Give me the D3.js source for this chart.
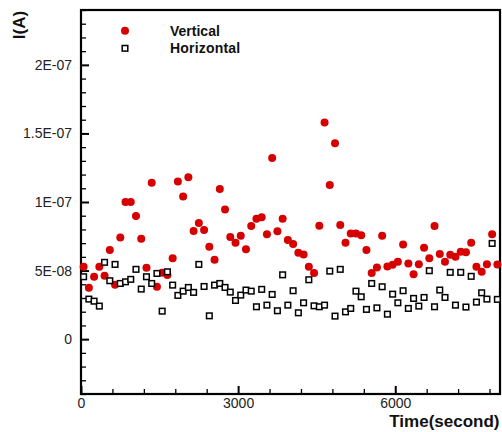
<!DOCTYPE html>
<html>
<head>
<meta charset="utf-8">
<script src="https://cdn.jsdelivr.net/npm/d3@7"></script>
<style>
  html, body { margin: 0; padding: 0; background: #fff; }
  svg { display: block; }
  text { font-family: "Liberation Sans", Arial, sans-serif; }
</style>
</head>
<body>
<svg id="chart" width="502" height="432"></svg>
<script>
// ---- data ----
const times = [50,150,250,350,450,550,650,750,850,950,
  1050,1150,1250,1350,1450,1550,1650,1750,1850,1950,
  2050,2150,2250,2350,2450,2550,2650,2750,2850,2950,
  3050,3150,3250,3350,3450,3550,3650,3750,3850,3950,
  4050,4150,4250,4350,4450,4550,4650,4750,4850,4950,
  5050,5150,5250,5350,5450,5550,5650,5750,5850,5950,
  6050,6150,6250,6350,6450,6550,6650,6750,6850,6950,
  7050,7150,7250,7350,7450,7550,7650,7750,7850,7950];
// values in units of 1E-08 A
const vertical = [5.28,3.74,4.55,5.28,4.62,6.5,3.96,7.42,10.0,10.0,
  8.98,7.32,5.2,11.4,3.82,4.84,4.67,5.89,11.5,10.4,
  11.8,7.88,8.47,7.96,6.74,5.79,10.95,9.46,7.45,7.03,
  7.54,6.55,8.25,8.78,8.88,7.64,13.2,7.86,8.78,7.23,
  6.93,6.3,6.18,5.28,4.82,8.27,15.8,11.24,14.28,8.32,
  7.03,7.71,7.71,7.57,6.5,4.82,5.23,7.54,5.3,5.42,
  5.64,6.91,5.52,4.74,5.47,6.67,5.89,8.25,6.2,5.64,
  6.16,6.0,6.37,6.33,7.03,5.28,4.91,5.47,7.64,5.45];
const horizontal = [4.55,2.92,2.77,2.41,5.6,4.26,5.45,4.06,4.18,4.36,
  5.09,3.65,4.55,4.06,4.79,2.04,4.91,3.94,3.19,3.5,
  3.77,3.41,5.45,3.84,1.7,3.94,4.06,3.77,3.43,2.82,
  3.21,3.58,3.5,2.36,3.63,2.48,3.26,2.07,4.69,2.48,
  3.53,1.92,2.65,4.33,2.43,2.36,2.48,4.96,1.68,5.09,
  1.99,2.24,3.5,3.09,2.17,4.06,2.28,3.82,1.82,3.28,
  2.65,3.53,2.24,2.97,2.41,3.04,4.99,2.36,3.58,3.04,
  4.87,2.48,4.87,2.34,4.58,2.7,3.38,2.92,6.98,2.9];
const unit = 1e-8;
const yMajorTicks = [0, 5e-8, 1e-7, 1.5e-7, 2e-7];
const yTickLabels = ["0", "5E-08", "1E-07", "1.5E-07", "2E-07"];
const xMajorTicks = [0, 3000, 6000];
const xTickLabels = ["0", "3000", "6000"];
const seriesNames = ["Vertical", "Horizontal"];

// ---- layout ----
const svg = d3.select("#chart");
const L = 81, R = 500, T = 10, B = 394;
const x = d3.scaleLinear().domain([0, 8000]).range([L, R]);
const y = d3.scaleLinear().domain([-4e-8, 2.4e-7]).range([B, T]);

const yMinor = d3.range(-4, 25).map(d => d * 1e-8).filter(v => !yMajorTicks.some(m => Math.abs(m - v) < 1e-12));
const xMinor = d3.range(0, 8001, 600).filter(v => !xMajorTicks.includes(v));

// minor ticks
svg.append("g").attr("transform", `translate(${L},0)`)
  .call(d3.axisLeft(y).tickValues(yMinor).tickSize(-5).tickFormat(""))
  .call(g => g.select(".domain").remove())
  .selectAll("line").attr("stroke", "#000").attr("stroke-width", 1.3);
svg.append("g").attr("transform", `translate(0,${B})`)
  .call(d3.axisBottom(x).tickValues(xMinor).tickSize(-5).tickFormat(""))
  .call(g => g.select(".domain").remove())
  .selectAll("line").attr("stroke", "#000").attr("stroke-width", 1.3);

// major ticks
const yAx = svg.append("g").attr("transform", `translate(${L},0)`)
  .call(d3.axisLeft(y).tickValues(yMajorTicks).tickSize(-8).tickPadding(9)
    .tickFormat((d, i) => yTickLabels[i]));
yAx.select(".domain").remove();
yAx.selectAll("line").attr("stroke", "#000").attr("stroke-width", 2);
yAx.selectAll("text").attr("font-size", 14).attr("fill", "#222")
  .attr("font-family", "Liberation Sans, Arial, sans-serif");

const xAx = svg.append("g").attr("transform", `translate(0,${B})`)
  .call(d3.axisBottom(x).tickValues(xMajorTicks).tickSize(-8).tickPadding(4.5)
    .tickFormat((d, i) => xTickLabels[i]));
xAx.select(".domain").remove();
xAx.selectAll("line").attr("stroke", "#000").attr("stroke-width", 2);
xAx.selectAll("text").attr("font-size", 14).attr("fill", "#222")
  .attr("font-family", "Liberation Sans, Arial, sans-serif");

// frame
svg.append("rect").attr("x", L).attr("y", T).attr("width", R - L).attr("height", B - T)
  .attr("fill", "none").attr("stroke", "#000").attr("stroke-width", 2.2);

// data
const red = "#d70000";
svg.append("g").selectAll("circle").data(vertical).join("circle")
  .attr("cx", (d, i) => x(times[i])).attr("cy", d => y(d * unit))
  .attr("r", 4).attr("fill", red);

const s = 5.6;
svg.append("g").selectAll("rect").data(horizontal).join("rect")
  .attr("x", (d, i) => x(times[i]) - s / 2).attr("y", d => y(d * unit) - s / 2)
  .attr("width", s).attr("height", s)
  .attr("fill", "#fff").attr("stroke", "#000").attr("stroke-width", 1.5);

// legend
svg.append("circle").attr("cx", 125).attr("cy", 30.7).attr("r", 4).attr("fill", red);
svg.append("rect").attr("x", 125 - s / 2).attr("y", 48.3 - s / 2).attr("width", s).attr("height", s)
  .attr("fill", "#fff").attr("stroke", "#000").attr("stroke-width", 1.5);
svg.append("text").attr("x", 170).attr("y", 35.6).attr("font-size", 14).attr("font-weight", "bold")
  .attr("fill", "#111").text(seriesNames[0]);
svg.append("text").attr("x", 170).attr("y", 53.3).attr("font-size", 14).attr("font-weight", "bold")
  .attr("fill", "#111").attr("letter-spacing", 0.2).text(seriesNames[1]);

// axis titles
svg.append("text").attr("x", 499.5).attr("y", 427).attr("text-anchor", "end")
  .attr("font-size", 17).attr("font-weight", "bold").attr("fill", "#111").text("Time(second)");
svg.append("text").attr("transform", "translate(25,25) rotate(-90)").attr("text-anchor", "middle")
  .attr("font-size", 17).attr("font-weight", "bold").attr("fill", "#111").text("I(A)");
</script>
</body>
</html>
